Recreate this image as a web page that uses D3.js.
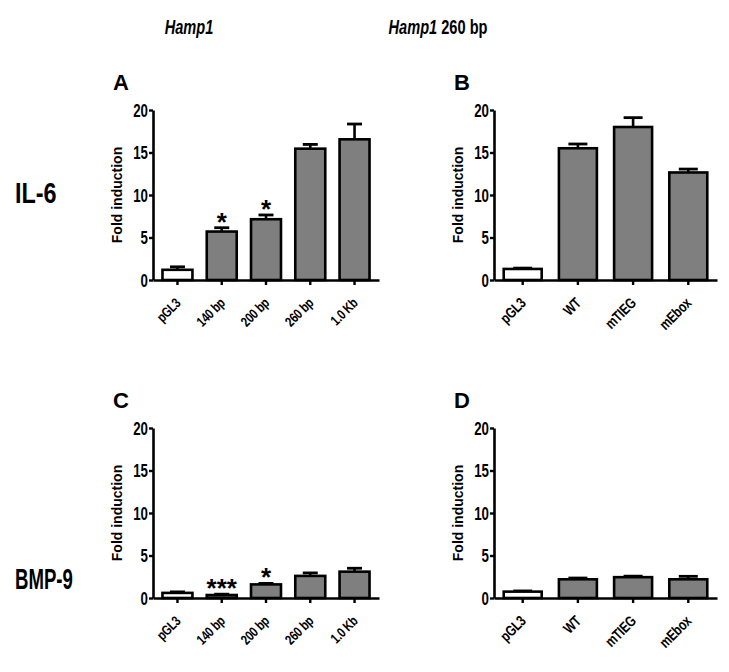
<!DOCTYPE html>
<html>
<head>
<meta charset="utf-8">
<script src="https://cdn.jsdelivr.net/npm/d3@7"></script>
<style>
  html, body { margin: 0; padding: 0; background: #fff; }
  svg { display: block; }
  text { font-family: "Liberation Sans", Arial, Helvetica, sans-serif; font-weight: bold; fill: #000; }
</style>
</head>
<body>
<svg id="chart" width="729" height="672"></svg>
<script>
// ---- data ----
const catsPromoter = ["pGL3", "140 bp", "200 bp", "260 bp", "1.0 Kb"];
const catsMutant = ["pGL3", "WT", "mTIEG", "mEbox"];

const il6PromoterMean = [1.2, 5.7, 7.15, 15.45, 16.55];
const il6PromoterErr  = [0.35, 0.45, 0.5, 0.5, 1.8];
const il6PromoterSig  = ["", "*", "*", "", ""];

const il6MutantMean = [1.3, 15.5, 18.0, 12.65];
const il6MutantErr  = [0.1, 0.5, 1.1, 0.4];
const il6MutantSig  = ["", "", "", ""];

const bmp9PromoterMean = [0.6, 0.35, 1.6, 2.6, 3.1];
const bmp9PromoterErr  = [0.12, 0.1, 0.12, 0.35, 0.4];
const bmp9PromoterSig  = ["", "***", "*", "", ""];

const bmp9MutantMean = [0.75, 2.2, 2.45, 2.2];
const bmp9MutantErr  = [0.08, 0.15, 0.12, 0.35];
const bmp9MutantSig  = ["", "", "", ""];

const yTicks = [0, 5, 10, 15, 20];
const yMax = 20;
const yLabel = "Fold induction";
const panelLetters = ["A", "B", "C", "D"];
const rowLabels = ["IL-6", "BMP-9"];

// ---- layout ----
const NARROW = 0.78;
const svg = d3.select("#chart");
const panels = [
  { letter: panelLetters[0], cats: catsPromoter, mean: il6PromoterMean, err: il6PromoterErr, sig: il6PromoterSig,
    ax: 153, xEnd: 379, y0: 280, yTop: 110, pi: 0.323, po: 0.214, lblSize: 14 },
  { letter: panelLetters[1], cats: catsMutant, mean: il6MutantMean, err: il6MutantErr, sig: il6MutantSig,
    ax: 494, xEnd: 717, y0: 280, yTop: 110, pi: 0.312, po: 0.176, lblSize: 15 },
  { letter: panelLetters[2], cats: catsPromoter, mean: bmp9PromoterMean, err: bmp9PromoterErr, sig: bmp9PromoterSig,
    ax: 153, xEnd: 379, y0: 598, yTop: 428, pi: 0.323, po: 0.214, lblSize: 14 },
  { letter: panelLetters[3], cats: catsMutant, mean: bmp9MutantMean, err: bmp9MutantErr, sig: bmp9MutantSig,
    ax: 494, xEnd: 717, y0: 598, yTop: 428, pi: 0.312, po: 0.176, lblSize: 15 }
];

panels.forEach(p => {
  const g = svg.append("g");
  const x = d3.scaleBand().domain(p.cats).range([p.ax, p.xEnd]).paddingInner(p.pi).paddingOuter(p.po);
  const y = d3.scaleLinear().domain([0, yMax]).range([p.y0, p.yTop]);

  const data = p.cats.map((c, i) => ({ c, v: p.mean[i], e: p.err[i], s: p.sig[i], i }));

  // error bars
  const eb = g.selectAll("g.eb").data(data).enter().append("g").attr("class", "eb");
  eb.append("line")
    .attr("x1", d => x(d.c) + x.bandwidth() / 2).attr("x2", d => x(d.c) + x.bandwidth() / 2)
    .attr("y1", d => y(d.v)).attr("y2", d => y(d.v + d.e))
    .attr("stroke", "#000").attr("stroke-width", 2.6);
  eb.append("line")
    .attr("x1", d => x(d.c) + x.bandwidth() / 4).attr("x2", d => x(d.c) + 3 * x.bandwidth() / 4)
    .attr("y1", d => y(d.v + d.e)).attr("y2", d => y(d.v + d.e))
    .attr("stroke", "#000").attr("stroke-width", 2.8);

  // bars
  g.selectAll("rect.bar").data(data).enter().append("rect")
    .attr("class", "bar")
    .attr("x", d => x(d.c))
    .attr("width", x.bandwidth())
    .attr("y", d => y(d.v))
    .attr("height", d => y(0) - y(d.v))
    .attr("fill", d => d.i === 0 ? "#ffffff" : "#7f7f7f")
    .attr("stroke", "#000").attr("stroke-width", 2.6);

  // significance
  g.selectAll("text.sig").data(data.filter(d => d.s)).enter().append("text")
    .attr("class", "sig")
    .attr("x", d => x(d.c) + x.bandwidth() / 2)
    .attr("y", d => y(d.v + d.e) + 3)
    .attr("text-anchor", "middle")
    .attr("font-size", 26)
    .text(d => d.s);

  // y axis
  const yAxis = g.append("g").attr("transform", `translate(${p.ax},0)`)
    .call(d3.axisLeft(y).tickValues(yTicks).tickSize(4).tickSizeOuter(0).tickPadding(1));
  yAxis.attr("font-family", null).attr("font-size", null);
  yAxis.select(".domain").attr("stroke-width", 2.6);
  yAxis.selectAll(".tick line").attr("stroke-width", 2.4);
  yAxis.selectAll(".tick text").each(function () {
    const t = d3.select(this);
    const xx = +t.attr("x");
    t.attr("x", 0).attr("dy", "0.36em").attr("font-size", 17.5)
     .attr("transform", `translate(${xx},0) scale(0.76,1)`);
  });

  // x axis
  const xAxis = g.append("g").attr("transform", `translate(0,${p.y0})`)
    .call(d3.axisBottom(x).tickSize(5).tickSizeOuter(0));
  xAxis.attr("font-family", null).attr("font-size", null);
  xAxis.select(".domain").attr("stroke-width", 2.6);
  xAxis.selectAll(".tick line").attr("stroke-width", 2.4);
  xAxis.selectAll(".tick text")
    .attr("x", 0).attr("y", 0).attr("dy", null)
    .attr("text-anchor", "end")
    .attr("font-size", p.lblSize)
    .attr("letter-spacing", -0.3)
    .attr("transform", `translate(4,24) rotate(-45) scale(${NARROW},1)`);

  // y label
  g.append("text")
    .attr("font-size", 14)
    .attr("text-anchor", "middle")
    .attr("transform", `translate(${p.ax - 31},${(p.y0 + p.yTop) / 2}) rotate(-90)`)
    .text(yLabel);

  // panel letter
  g.append("text")
    .attr("font-size", 22)
    .attr("x", p.ax - 40).attr("y", p.yTop - 20)
    .text(p.letter);
});

// column titles
const t1 = svg.append("text").attr("font-size", 20)
  .attr("text-anchor", "middle")
  .attr("transform", `translate(189,34) scale(0.73,1)`);
t1.append("tspan").attr("font-style", "italic").text("Hamp1");

const t2 = svg.append("text").attr("font-size", 20)
  .attr("text-anchor", "middle")
  .attr("transform", `translate(438,34) scale(0.73,1)`);
t2.append("tspan").attr("font-style", "italic").text("Hamp1");
t2.append("tspan").text(" 260 bp");

// row labels
svg.append("text").attr("font-size", 30)
  .attr("transform", `translate(15,203) scale(${NARROW},1)`).text(rowLabels[0]);
svg.append("text").attr("font-size", 30)
  .attr("transform", `translate(15,589) scale(0.62,1)`).text(rowLabels[1]);
</script>
</body>
</html>
